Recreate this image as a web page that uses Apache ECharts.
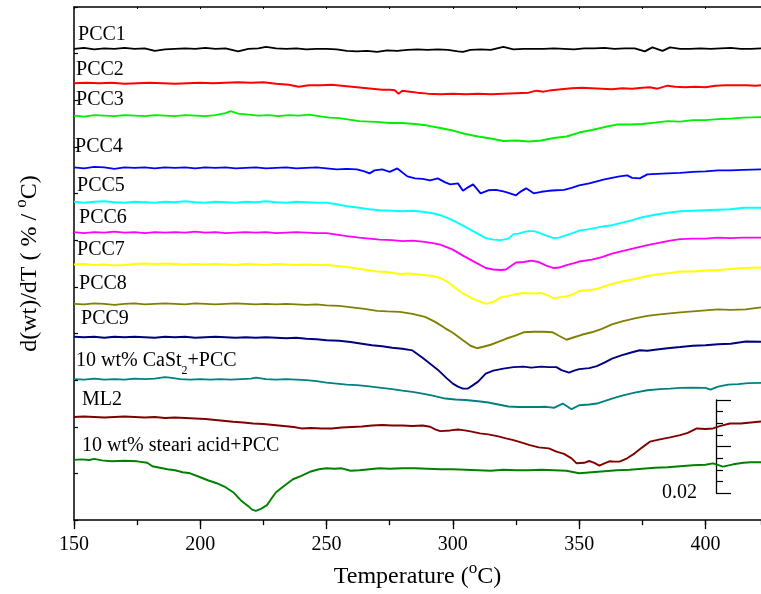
<!DOCTYPE html>
<html><head><meta charset="utf-8">
<script src="https://cdn.jsdelivr.net/npm/echarts@6/dist/echarts.min.js"></script>
<style>html,body{margin:0;padding:0;background:#fff}#c{width:761px;height:594px}</style>
</head><body><div id="c"></div>
<script>
// Temperature (°C) vs offset derivative signal (arbitrary offset units; scale bar = 0.02 %/°C)
const pcc1 = [[150,473],[154,474],[158,472.5],[162,473.5],[166,473],[170,474],[174,473],[178,473.5],[182,471],[186,472.5],[190,473],[194,473.5],[198,473],[202,474],[206,473],[210,473.5],[215,470.5],[219,473],[223,473.5],[226,475],[230,473.5],[234,473],[238,473.5],[242,472.5],[246,473],[250,473],[254,472.5],[258,471],[262,470.5],[266,471],[270,470],[274,471.5],[278,471],[282,472],[286,472.5],[290,472],[294,472.5],[298,472],[302,470.5],[304,470],[307,472],[311,472.5],[315,472],[320,475],[324,472.5],[328,473],[332,473],[336,473],[340,473.5],[344,473],[348,472.5],[352,473.5],[356,473.5],[360,474],[364,473],[368,473.5],[372,473.5],[376,470.5],[379,474.5],[383,471],[386,474.5],[390,473],[394,473],[398,473.5],[402,473],[406,473.5],[410,474],[414,473],[418,473],[422,473.5]];
const pcc2 = [[150,438.5],[155,439],[160,438.5],[165,439],[170,438],[175,438.5],[180,439],[185,438.5],[190,438],[195,438.5],[200,439],[205,438.5],[210,439],[215,439.5],[220,439],[225,439.5],[230,438],[235,437],[239,435],[243,436.5],[248,436.5],[252,437],[256,436],[260,435],[264,434],[268,433],[272,432],[275,432],[277,431.5],[278.5,428],[280,431],[283,430],[286,429],[290,428],[295,427.5],[300,428],[305,427.5],[310,428],[315,427.5],[320,428],[325,428.5],[330,429],[333,431],[336,430],[339,431.5],[343,432.5],[347,433.5],[351,434],[355,433.5],[359,433],[363,432.5],[367,433.5],[371,433],[375,434],[378,434.5],[381,433],[385,436],[388,435],[392,434.5],[396,435],[400,434.5],[404,436],[408,436.5],[412,436.5],[416,436.5],[420,436],[422,436.5]];
const pcc3 = [[150,406],[154,405],[158,406.5],[162,406],[166,405.5],[170,406.5],[174,406],[178,405.5],[182,406.5],[186,406],[190,405.5],[194,406.5],[198,406],[202,405.5],[206,406.5],[210,408.5],[212,410.5],[215,408],[219,407],[223,406],[227,406.5],[231,405.5],[235,406.5],[239,406],[243,407],[247,405.5],[251,404],[255,403.5],[259,402],[263,400.5],[267,400],[271,399.5],[275,398.5],[280,398.5],[285,397.5],[290,396],[295,393.5],[300,391],[305,387.5],[310,385],[315,383],[320,380.5],[325,381],[330,380],[335,381],[340,383.5],[345,385],[350,389],[355,391.5],[360,394.5],[365,397],[370,397],[375,397.5],[380,399],[385,400.5],[390,400],[395,401.5],[400,401.5],[405,402.5],[410,403],[415,404],[422,404.5]];
const pcc4 = [[150,354],[154,353],[158,354.5],[162,354],[166,352.5],[170,354],[174,353.5],[178,354],[182,353],[186,354],[190,353.5],[194,354],[198,353],[202,354],[206,353.5],[210,354],[214,353],[218,353.5],[222,354],[226,353],[230,353.5],[234,354],[238,353],[242,353.5],[246,354],[250,353],[254,352],[258,352.5],[262,352],[265,350],[267,348],[269,351],[272,352],[275,349.5],[278,353],[282,345],[285,343],[288,342.5],[291,341],[294,343],[297,339],[299,337],[302,338],[304,330.5],[306,334],[308,337],[311,328],[314,331],[317,331.5],[320,330],[322,328.5],[325,326],[327,330],[329,333],[332,328],[335,329.5],[338,330.5],[341,331],[344,331.5],[347,333.5],[350,336],[354,338],[357,340],[360,342],[363,343.5],[366,345],[369,346],[371,343.5],[374,343],[377,347],[381,347.5],[385,348],[390,348.5],[395,349.5],[400,350],[405,351],[410,351],[415,351.5],[422,352]];
const pcc5 = [[150,319.5],[154,318.5],[158,319.5],[162,320],[166,319],[170,318.5],[174,319.5],[178,319],[182,318.5],[186,319.5],[190,319],[194,320],[198,319],[202,318.5],[206,319.5],[210,319],[214,318.5],[218,319.5],[222,319],[226,320],[230,319],[234,318.5],[238,319.5],[242,319],[246,318.5],[250,318.5],[254,317],[258,315],[263,313.5],[267,312],[271,311],[276,310.5],[280,310],[284,310.5],[288,309.5],[292,308],[295,306],[299,302],[304,295.5],[308,290],[313,283],[316,281.5],[319,281],[322,282.5],[324,287],[326,287.5],[328,289],[330,290],[332,290],[334,288.5],[337,285.5],[340,283],[342,283.5],[345,286],[348,288.5],[350,290.5],[354,292],[357,293.5],[360,295],[363,296],[367,298.5],[371,301],[375,304],[380,306.5],[385,308.5],[390,310],[395,310.5],[400,311],[405,311.5],[410,312],[415,313.5],[422,313.5]];
const pcc6 = [[150,289],[154,288],[158,289],[162,288.5],[166,289.5],[170,288.5],[174,289],[178,288],[182,289],[186,288.5],[190,289],[194,288.5],[198,289.5],[202,288.5],[206,289],[210,288],[214,288.5],[218,289],[222,288.5],[226,289],[230,288],[234,288.5],[238,289],[242,288.5],[246,288],[250,288],[254,286.5],[258,285],[263,283.5],[267,282.5],[271,281.5],[276,281],[280,280],[284,280.5],[288,279.5],[292,278],[295,276.5],[300,271.5],[304,265.5],[308,260],[313,253],[316,251.5],[319,251],[321,251.5],[323,255],[325,258.5],[328,259],[331,260.5],[334,259],[337,255.5],[340,253],[342,253.5],[345,256],[348,258],[350,259.5],[355,261.5],[359,264],[363,267.5],[367,270],[372,273],[377,276],[382,278.5],[386,280.5],[390,282],[395,282.5],[400,282.5],[405,283.5],[410,283],[415,283.5],[422,283.5]];
const pcc7 = [[150,256.5],[154,257],[158,256],[162,256.5],[166,255.5],[170,256],[174,257],[178,257.5],[182,257],[186,257.5],[190,257],[194,256.5],[198,257],[202,256.5],[206,257],[210,256.5],[214,256],[218,257],[222,256.5],[226,256],[230,257],[234,256.5],[238,256],[242,256.5],[246,256],[250,256],[254,255],[258,254],[262,252.5],[266,251],[270,249.5],[274,249],[279,247],[283,247.5],[288,246],[292,245],[295,243],[298,239],[301,233],[304,227.5],[308,222],[311,219],[313,217],[316,219],[319,223.5],[322,225],[325,227],[328,228],[332,227.5],[335,228],[338,225],[340,222.5],[343,224],[345,224.5],[348,227],[350,230],[354,231],[357,232],[360,234.5],[363,237],[367,239.5],[372,242],[377,245],[382,247],[386,248],[390,249.5],[395,249.5],[400,250.5],[405,251],[410,252],[415,253],[422,253.5]];
const pcc8 = [[150,217],[154,216.5],[158,217.5],[162,217],[166,216],[170,217],[174,217.5],[178,216.5],[182,217],[186,217.5],[190,217],[194,216.5],[198,217.5],[202,217],[206,216.5],[210,217],[214,217.5],[218,217],[222,216.5],[226,217],[230,216.5],[234,217],[238,216.5],[242,216],[246,216.5],[250,215.5],[255,215],[260,213.5],[265,212],[270,210],[274,209.5],[279,209],[284,207],[289,204],[293,199],[297,192.5],[300,188],[304,180.5],[307,175],[309.5,172.5],[312,174],[315,176],[318,179],[321,182],[325,185.5],[328,188.5],[332,189],[336,189],[339.5,188.5],[342,185],[345,181],[348,183.5],[351,186],[355,188.5],[359,192],[363,196.5],[367,199.5],[372,202.5],[377,205],[382,206.5],[386,207.5],[390,208.5],[395,209.5],[400,210.5],[405,211.5],[410,211],[416,211.5],[422,213.5]];
const pcc9 = [[150,184],[154,183.5],[158,184],[162,183],[166,184],[170,183.5],[174,184],[178,183.5],[182,183],[186,184],[190,183.5],[194,184],[198,183],[202,183.5],[206,184],[210,183.5],[214,183],[218,183.5],[222,183],[226,183.5],[230,183],[234,182.5],[238,183],[242,182],[246,181.5],[250,180.5],[255,180],[259.5,178.7],[264,177],[268,175.5],[272,174.5],[276,173],[280,172],[284,170.3],[288,163],[291,157],[294,151],[297.5,142.5],[300,137],[302,134],[304,132],[306,132],[308,135.5],[310,139],[313,147],[316,150],[320,152],[324,153.5],[328,154],[331,153],[335,154],[338,153.5],[341,153.5],[343,150.5],[346,148],[348,150],[350,151.5],[354,152.5],[357,154.5],[360,158],[363,162],[367,165.5],[371,168.5],[374,170.5],[377,170],[380,171],[385,172.5],[390,173.7],[395,175],[400,175.5],[405,176.5],[410,177],[416,179.3],[422,179]];
const cast2 = [[150,141.5],[154,141],[158,142],[162,141],[166,141.5],[170,141],[174,142],[178,141.5],[182,142],[186,143.5],[188,143],[192,141.5],[196,141],[200,141.5],[204,141],[208,141.5],[212,141],[216,141.5],[220,142],[222,143],[226,141.5],[230,141],[234,141.5],[238,141],[242,140.5],[246,139.5],[250,138],[254,137],[258,136],[262,135.5],[266,134.5],[271,133],[276,131.5],[280,130],[284,128.7],[288,127],[292,125],[297,122],[301,121],[305,120.5],[310,119.3],[314,118],[318,116],[322,114],[326,113.5],[330,113.5],[334,113.5],[337,113.7],[340,112.7],[343.5,117],[347,111.3],[350,115.3],[354,116],[357,117],[360,119.5],[363,122],[367,125],[372,128],[377,130.3],[382,131.5],[386,132],[390,132.7],[395,133],[400,132.7],[402,131],[405,134],[409,136],[413,136.5],[417,137.5],[422,137.7]];
const ml2 = [[150,103.5],[154,104],[158,103.5],[162,103],[166,103.5],[170,104],[174,103.5],[178,103],[182,103.5],[186,102.5],[190,103],[194,102.5],[198,102],[202,101.5],[206,100.5],[210,99.5],[213,98.7],[217,98],[221,97],[225,96.5],[229,95.5],[233,94.5],[237,93.5],[240,92],[244,92.5],[248,92],[252,92],[256,93],[260,93.5],[264,94],[268,95],[272,95.5],[276,95],[280,95],[284,94.5],[288,95],[291,93.7],[293,91],[295,89.3],[299,90],[302,91],[304,90.3],[307,89],[310.7,87],[314,86],[318,84],[321,82],[324,80.3],[327,78],[330.5,75.3],[334,73],[338,72],[341,68.7],[344,66.5],[347,62],[349,57],[352,57.5],[354,59.3],[356,57.5],[358,54.7],[360,57],[362,59],[364,58.7],[366,58.7],[369,62],[372,67],[375,73],[378,78.7],[382,81],[386,83],[390,85.3],[393,87.5],[396.6,92],[400,91.5],[403,92],[406,94.5],[409.7,97],[414,97],[418,98],[422,99]];
const stearic = [[150,60.5],[153,61],[156,60.3],[158,61.5],[161,60],[165,59],[170,59.5],[175,59],[179,57.5],[181,54],[184,52.5],[187,51],[190,50],[193,48],[196,47],[200,43],[203,40],[206.5,37],[210,33],[213,28],[216,20],[219,14],[220.5,10.5],[222,9.3],[224,11.3],[226.4,15],[228,21],[230,28],[233,34],[236.7,41],[240,44.5],[243.4,48.5],[247,51],[250,52],[253,51.5],[256,52],[259.5,49.5],[263,50],[267,51],[271,52],[275,51.5],[280,52],[285,52],[290,51.5],[295,51],[300,51],[305,50.5],[310,50],[315,49.5],[320,50.5],[325,50],[330,50],[335,50.5],[340,50],[345,49.5],[350,47],[355,48],[360,49],[365,50],[370,50.5],[375,51.5],[380,52.5],[385,53],[390,54],[395,55],[400,55.5],[403,57],[407,53.7],[411,56],[415,57.5],[418,58],[422,58]];

const seriesNames = ['PCC1','PCC2','PCC3','PCC4','PCC5','PCC6','PCC7','PCC8','PCC9','10 wt% CaSt2+PCC','ML2','10 wt% steari acid+PCC'];
const seriesLabels = ['PCC1','PCC2','PCC3','PCC4','PCC5','PCC6','PCC7','PCC8','PCC9','10 wt% CaSt{sub|2}+PCC','ML2','10 wt% steari acid+PCC'];
const seriesData = [pcc1,pcc2,pcc3,pcc4,pcc5,pcc6,pcc7,pcc8,pcc9,cast2,ml2,stearic];
const xTickLabels = [150,200,250,300,350,400];
const scaleBarLabel = '0.02';

// styling / label placement
const colors = ['#000000','#ff0000','#00ee00','#0000ff','#00ffff','#ff00ff','#ffff00','#808000','#000080','#008080','#800000','#008000'];
const labelAnchors = [[151.6,487],[150.8,452],[150.8,422],[150.4,375],[151.2,336],[152,303],[151.2,271],[152,237],[152.8,202],[150.8,160],[153.2,121],[153.2,75]];

const FONT = 'Liberation Serif';
const chart = echarts.init(document.getElementById('c'), null, {renderer:'canvas'});

const series = seriesData.map((d, i) => ({
  name: seriesNames[i], type: 'line', data: d, xAxisIndex: 0, yAxisIndex: 0,
  symbol: 'none', showSymbol: false, smooth: false, silent: true,
  lineStyle: {color: colors[i], width: 1.9}, itemStyle: {color: colors[i]},
  markPoint: {
    symbol: 'circle', symbolSize: 0, silent: true, animation: false,
    data: [{coord: labelAnchors[i], value: 0}],
    label: {show: true, position: 'right', distance: 0, color: '#000',
      fontFamily: FONT, fontSize: 20, formatter: () => seriesLabels[i],
      rich: {sub: {fontSize: 12, fontFamily: FONT, color:'#000', padding: [20,0,0,0]}}}
  }
}));

const supStyle = {fontSize: 17, fontFamily: FONT, color:'#000', padding: [0,0,17,0]};

const option = {
  animation: false,
  backgroundColor: '#fff',
  grid: [
    {left: 74, top: 7, right: 0, bottom: 72, containLabel: false},
    {left: 716, top: 400, width: 20, height: 93}
  ],
  xAxis: [
    {gridIndex: 0, type: 'value', position: 'bottom', min: 150, max: 422, interval: 50,
      axisLine: {show: true, onZero: false, lineStyle: {color: '#000', width: 1.5}},
      axisTick: {show: true, inside: false, length: 9, lineStyle: {color:'#000', width: 1.3}},
      axisLabel: {show: true, color: '#000', fontFamily: FONT, fontSize: 20, margin: 15, showMaxLabel: false,
        formatter: v => xTickLabels.includes(v) ? String(v) : ''},
      splitLine: {show: false},
      name: 'Temperature ({sup|o}C)', nameLocation: 'middle', nameGap: 37,
      nameTextStyle: {color: '#000', fontFamily: FONT, fontSize: 24, rich: {sup: supStyle}}},
    {gridIndex: 0, type: 'value', position: 'bottom', min: 150, max: 422, interval: 25,
      axisLine: {show: false, onZero: false}, axisLabel: {show: false}, splitLine: {show: false},
      axisTick: {show: true, inside: false, length: 5, lineStyle: {color:'#000', width: 1.3}}},
    {gridIndex: 0, type: 'value', position: 'top', min: 150, max: 422, interval: 25,
      axisLine: {show: true, onZero: false, lineStyle: {color: '#000', width: 1.5}},
      axisLabel: {show: false}, splitLine: {show: false},
      axisTick: {show: true, inside: true, length: 2, lineStyle: {color:'#000', width: 1}}},
    {gridIndex: 1, type: 'value', show: false, min: 0, max: 1}
  ],
  yAxis: [
    {gridIndex: 0, type: 'value', position: 'left', min: 0, max: 515, interval: 515/11,
      axisLine: {show: true, onZero: false, lineStyle: {color: '#000', width: 1.5}},
      axisTick: {show: true, inside: true, length: 4, lineStyle: {color:'#000', width: 1.2}},
      axisLabel: {show: false}, splitLine: {show: false},
      name: 'd(wt)/dT ( % / {sup|o}C)', nameLocation: 'middle', nameGap: 27, nameRotate: 90,
      nameTextStyle: {color: '#000', fontFamily: FONT, fontSize: 24, rich: {sup: supStyle}}},
    {gridIndex: 1, type: 'value', position: 'left', min: 0, max: 0.02, interval: 0.01,
      axisLine: {show: true, onZero: false, lineStyle: {color: '#000', width: 1.3}},
      axisTick: {show: true, inside: true, length: 15, lineStyle: {color:'#000', width: 1.2}},
      minorTick: {show: true, splitNumber: 4, length: 7, lineStyle: {color:'#000', width: 1.2}},
      splitLine: {show: false},
      axisLabel: {show: true, color:'#000', fontFamily: FONT, fontSize: 20, margin: 19,
        formatter: v => v === 0 ? scaleBarLabel : ''}}
  ],
  series: series
};
chart.setOption(option);
</script>
</body></html>
